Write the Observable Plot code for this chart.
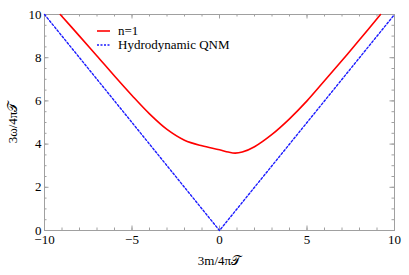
<!DOCTYPE html>
<html><head><meta charset="utf-8">
<script src="https://cdn.jsdelivr.net/npm/d3@7"></script>
<script src="https://cdn.jsdelivr.net/npm/@observablehq/plot@0.6"></script>
<style>
body{margin:0;background:#fff;}
#wrap{position:relative;width:409px;height:275px;font-family:"Liberation Serif",serif;}
#legend{position:absolute;left:97px;top:24px;font-size:13px;line-height:14px;color:#000;}
#legend div{display:flex;align-items:center;height:14px;}
#legend svg{margin-right:8px;}
</style></head>
<body><div id="wrap"><div id="legend"></div></div>
<script>
const nOneM = [-9.1,-8,-7,-6,-5,-4,-3,-2,-1,0,0.5,0.9,1.3,2,3,4,5,6,7,8,9.2];
const nOneW = [10,9.0,8.08,7.15,6.25,5.4,4.68,4.18,3.92,3.74,3.63,3.58,3.63,3.88,4.45,5.17,6.0,6.93,7.87,8.83,10];
const hydroM = [-10,0,10];
const hydroW = [10,0,10];
const xTicks = [-10,-5,0,5,10];
const yTicks = [0,2,4,6,8,10];
const seriesNames = ["n=1","Hydrodynamic QNM"];
const colors = ["#ff0000","#1a1aff"];

const red = nOneM.map((m,i)=>({m,w:nOneW[i]}));
const blue = hydroM.map((m,i)=>({m,w:hydroW[i]}));
const xMinor = d3.range(-10,10.01,1);
const yMinor = d3.range(0,10.01,0.5);
const tickCol = "#a0a0a0";
const H = 275-14-45, W = 409-44-15;

const chart = Plot.plot({
  width:409, height:275,
  marginLeft:44, marginRight:15, marginTop:14, marginBottom:45,
  style:{fontFamily:"Liberation Serif, serif", fontSize:"13px", color:"#000", background:"#fff"},
  x:{domain:[-10,10]},
  y:{domain:[0,10]},
  marks:[
    Plot.ruleX(xMinor,{x:d=>d, insetTop:H-2.5, stroke:tickCol}),
    Plot.ruleX(xTicks,{x:d=>d, insetTop:H-4.5, stroke:tickCol}),
    Plot.ruleX(xMinor,{x:d=>d, insetBottom:H-2.5, stroke:tickCol}),
    Plot.ruleX(xTicks,{x:d=>d, insetBottom:H-4.5, stroke:tickCol}),
    Plot.ruleY(yMinor,{y:d=>d, insetRight:W-2.5, stroke:tickCol}),
    Plot.ruleY(yTicks,{y:d=>d, insetRight:W-4.5, stroke:tickCol}),
    Plot.ruleY(yMinor,{y:d=>d, insetLeft:W-2.5, stroke:tickCol}),
    Plot.ruleY(yTicks,{y:d=>d, insetLeft:W-4.5, stroke:tickCol}),
    Plot.frame({stroke:tickCol, strokeWidth:1}),
    Plot.line(blue,{x:"m",y:"w",stroke:colors[1],strokeWidth:1.4,strokeDasharray:"2,2"}),
    Plot.line(red,{x:"m",y:"w",stroke:colors[0],strokeWidth:1.6,curve:"catmull-rom"}),
    Plot.axisX({ticks:xTicks, tickSize:0, tickPadding:4, fontSize:13, label:"3m/4π𝒯", labelAnchor:"center", labelOffset:34, labelArrow:"none"}),
    Plot.axisY({ticks:yTicks, tickSize:0, tickPadding:3, fontSize:13, label:"3ω/4π𝒯", labelAnchor:"center", labelOffset:37, labelArrow:"none"})
  ]
});
document.getElementById("wrap").prepend(chart);
chart.style.display="block";
const lg = document.getElementById("legend");
seriesNames.forEach((n,i)=>{
  const d=document.createElement("div");
  d.innerHTML=`<svg width="13" height="4"><line x1="0" x2="13" y1="2" y2="2" stroke="${colors[i]}" stroke-width="${i?1.4:1.6}" ${i?'stroke-dasharray="2,1.5"':''}/></svg><span>${n}</span>`;
  lg.appendChild(d);
});
</script></body></html>
